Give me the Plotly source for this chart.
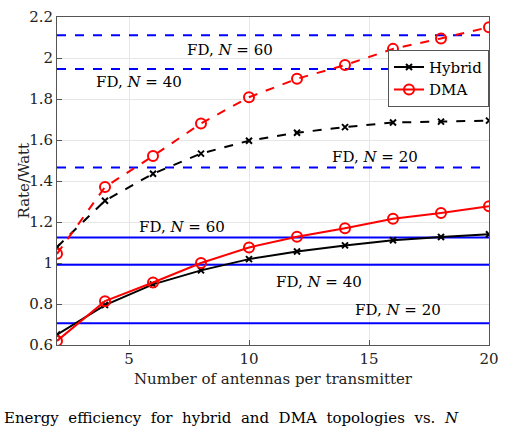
import plotly.graph_objects as go

# antennas per transmitter
antennas = [2, 4, 6, 8, 10, 12, 14, 16, 18, 20]

# dashed curves (upper group)
hybrid_hi = [1.078, 1.304, 1.436, 1.534, 1.597, 1.636, 1.663, 1.686, 1.690, 1.695]
dma_hi = [1.045, 1.371, 1.522, 1.681, 1.809, 1.899, 1.966, 2.045, 2.096, 2.151]

# solid curves (lower group)
hybrid_lo = [0.651, 0.795, 0.896, 0.964, 1.019, 1.056, 1.086, 1.111, 1.127, 1.140]
dma_lo = [0.620, 0.814, 0.905, 1.000, 1.076, 1.128, 1.170, 1.216, 1.244, 1.277]

# fully digital reference levels
fd_labels = ["FD, <i>N</i> = 60", "FD, <i>N</i> = 40", "FD, <i>N</i> = 20"]
fd_hi = [2.111, 1.947, 1.466]
fd_lo = [1.125, 0.992, 0.706]
fd_hi_text_pos = [(9.2, 2.04), (5.4, 1.882), (15.25, 1.518)]
fd_lo_text_pos = [(7.2, 1.174), (12.9, 0.905), (16.2, 0.771)]

FONT = "DejaVu Serif"

fig = go.Figure()

for level in fd_hi:
    fig.add_trace(go.Scatter(x=[antennas[0], antennas[-1]], y=[level, level], mode="lines",
                             line=dict(color="#0000ff", width=2, dash="dash"), showlegend=False))
for level in fd_lo:
    fig.add_trace(go.Scatter(x=[antennas[0], antennas[-1]], y=[level, level], mode="lines",
                             line=dict(color="#0000ff", width=2), showlegend=False))

fig.add_trace(go.Scatter(x=antennas, y=hybrid_hi, mode="lines+markers", showlegend=False,
                         line=dict(color="black", width=2, dash="dash"),
                         marker=dict(symbol="x-thin", size=6, line=dict(color="black", width=2))))
fig.add_trace(go.Scatter(x=antennas, y=dma_hi, mode="lines+markers", showlegend=False,
                         line=dict(color="#ff0000", width=2, dash="dash"),
                         marker=dict(symbol="circle-open", size=10, color="#ff0000", line=dict(width=2))))
fig.add_trace(go.Scatter(x=antennas, y=hybrid_lo, mode="lines+markers", name="Hybrid",
                         line=dict(color="black", width=2),
                         marker=dict(symbol="x-thin", size=6, line=dict(color="black", width=2))))
fig.add_trace(go.Scatter(x=antennas, y=dma_lo, mode="lines+markers", name="DMA",
                         line=dict(color="#ff0000", width=2),
                         marker=dict(symbol="circle-open", size=10, color="#ff0000", line=dict(width=2))))

for label, (x, y) in zip(fd_labels, fd_hi_text_pos):
    fig.add_annotation(x=x, y=y, text=label, showarrow=False, font=dict(family=FONT, size=15, color="black"))
for label, (x, y) in zip(fd_labels, fd_lo_text_pos):
    fig.add_annotation(x=x, y=y, text=label, showarrow=False, font=dict(family=FONT, size=15, color="black"))

# y-axis title placed by hand so it sits close to the page edge
fig.add_annotation(xref="paper", yref="paper", x=-0.103, y=0.5, textangle=-90,
                   text="Rate/Watt", showarrow=False, font=dict(family=FONT, size=15, color="#222222"))

# caption at the bottom of the picture
sp = "&nbsp;&nbsp;"
caption = sp.join(["Energy", "efficiency", "for", "hybrid", "and", "DMA", "topologies", "vs.", "<i>N</i>"])
fig.add_annotation(xref="paper", yref="paper", x=-0.127, y=-0.19, xanchor="left", yanchor="top",
                   text=caption, showarrow=False, font=dict(family=FONT, size=15, color="black"))

axis_style = dict(showline=True, linecolor="#555555", linewidth=1, mirror=True,
                  ticks="inside", ticklen=5, tickcolor="#555555",
                  showgrid=True, gridcolor="#e6e6e6", zeroline=False,
                  ticklabeloverflow="allow",
                  tickfont=dict(family=FONT, size=15, color="#222222"))

fig.update_xaxes(range=[2, 20.0001], tickvals=[5, 10, 15, 20],
                 title=dict(text="Number of antennas per transmitter", standoff=6,
                            font=dict(family=FONT, size=15, color="#222222")),
                 **axis_style)
fig.update_yaxes(range=[0.6, 2.2005], tickvals=[0.6, 0.8, 1, 1.2, 1.4, 1.6, 1.8, 2, 2.2],
                 ticktext=["0.6", "0.8", "1", "1.2", "1.4", "1.6", "1.8", "2", "2.2"],
                 **axis_style)

fig.update_layout(
    width=532, height=428,
    margin=dict(l=57, r=43, t=8, b=83),
    plot_bgcolor="white", paper_bgcolor="white",
    legend=dict(x=1, y=0.9, xanchor="right", yanchor="top", bgcolor="white",
                bordercolor="#555555", borderwidth=1, tracegroupgap=0,
                font=dict(family=FONT, size=15, color="black"), itemwidth=30),
)

# drop the browser's default body margin so the figure sits at the page corner
fig.write_html("out.html", config={"displayModeBar": False},
               post_script="document.body.style.margin='0';")
